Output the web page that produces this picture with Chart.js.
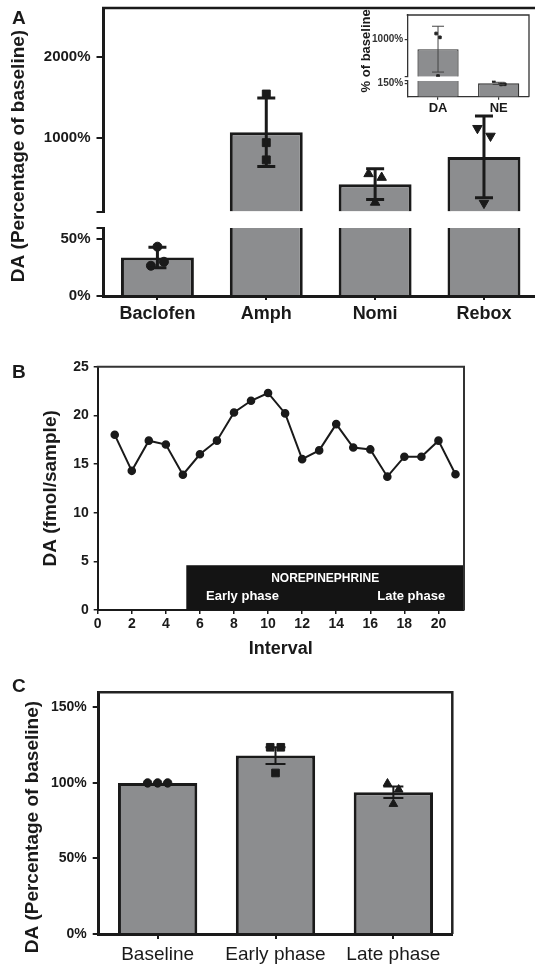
<!DOCTYPE html>
<html>
<head>
<meta charset="utf-8">
<script src="https://cdn.jsdelivr.net/npm/chart.js@4.4.1/dist/chart.umd.min.js"></script>
<style>
  html, body { margin: 0; padding: 0; background: #fff; }
  body { position: relative; width: 535px; height: 965px; overflow: hidden; }
  canvas { position: absolute; }
  .letter { position: absolute; left: 12px; font: bold 19px "Liberation Sans", Arial, sans-serif; line-height: 19px; color: #1a1a1a; }
</style>
</head>
<body>
<!-- panel A runs a little past the right edge, like the cropped original -->
<canvas id="chartA" width="545" height="335" style="left:0;top:0"></canvas>
<canvas id="chartInset" width="195" height="120" style="left:340px;top:0"></canvas>
<canvas id="chartB" width="535" height="325" style="left:0;top:340px"></canvas>
<canvas id="chartC" width="535" height="300" style="left:0;top:665px"></canvas>
<div class="letter" style="top:8px">A</div>
<div class="letter" style="top:362px">B</div>
<div class="letter" style="top:676px">C</div>
<script>
Chart.defaults.font.family = "'Liberation Sans', Arial, Helvetica, sans-serif";
Chart.defaults.color = '#1a1a1a';
Chart.defaults.animation = false;
Chart.defaults.plugins.legend.display = false;
Chart.defaults.plugins.tooltip.enabled = false;

const INK = '#1a1a1a';
const BAR_GRAY = '#8c8d8f';
const TITLE_FONT = 'bold 19px "Liberation Sans", Arial, sans-serif';

// ---- Panel A: drug effects (broken axis) ----
const drugs = ['Baclofen', 'Amph', 'Nomi', 'Rebox'];
const drugMean = [34, 1073, 436, 771];
const drugSD = [9, 420, 188, 503];
const drugPoints = [[43.5, 30.2, 26.7], [1543, 946, 734], [562, 517, 211], [1123, 1028, 203]];
const drugJitter = [[0, 0.06, -0.06], [0, 0, 0], [-0.06, 0.06, 0], [-0.06, 0.06, 0]];
const drugMarker = ['circle', 'rect', 'triangle', 'triangle'];
const drugMarkerTurn = [0, 0, 0, 180];
const aLowMax = 60, aHighMin = 100, aHighMax = 2600;

// ---- Inset: DA vs NE ----
const insetCats = ['DA', 'NE'];
const insetMean = [775, 150];
const insetSD = [520, 12];
const insetPoints = [[1130, 1043, 165], [175, 138, 140]];
const insetJitter = [[-0.03, 0.03, 0], [-0.08, 0.04, 0.1]];
const iLowMax = 180, iHighMin = 150, iHighMax = 1550;

// ---- Panel B: time course ----
const intervals = [1, 2, 3, 4, 5, 6, 7, 8, 9, 10, 11, 12, 13, 14, 15, 16, 17, 18, 19, 20, 21];
const daFmol = [18.0, 14.3, 17.4, 17.0, 13.9, 16.0, 17.4, 20.3, 21.5, 22.3, 20.2, 15.5, 16.4, 19.1, 16.7, 16.5, 13.7, 15.75, 15.75, 17.4, 13.95];
const intervalTicks = [0, 2, 4, 6, 8, 10, 12, 14, 16, 18, 20];
const neStart = 5.2, neTop = 4.6, intervalMax = 21.5;

// ---- Panel C: phases ----
const phases = ['Baseline', 'Early phase', 'Late phase'];
const phaseMean = [100, 118.1, 93.8];
const phaseSEM = [0, 5.6, 3.8];
const phasePoints = [[100, 100, 100], [123.6, 123.6, 106.6], [99.6, 95.6, 86.1]];
const phaseJitter = [[-0.085, 0, 0.085], [-0.045, 0.045, 0], [-0.05, 0.045, 0]];
const phaseMarker = ['circle', 'rect', 'triangle'];

// helpers
const fixWidth = w => s => { s.width = w; s.paddingTop = 0; s.paddingBottom = 0; };
const fixHeight = h => s => { s.height = h; s.paddingLeft = 0; s.paddingRight = 0; };
const onlyTicks = vals => s => { s.ticks = vals.map(v => ({ value: v })); };
const tickMarks = (len, w, color) => ({ drawOnChartArea: false, drawTicks: true, tickLength: len, lineWidth: w, color: color || INK, offset: false });

function errorBars(cfg) {
  return {
    id: 'errorBars',
    afterDatasetsDraw(chart) {
      const { ctx } = chart;
      const x = chart.scales.x;
      ctx.save();
      ctx.strokeStyle = cfg.color;
      ctx.lineWidth = cfg.width;
      cfg.mean.forEach((m, i) => {
        const e = cfg.err[i];
        if (!e) return;
        const y = chart.scales[cfg.axes ? cfg.axes[i] : 'y'];
        const px = x.getPixelForValue(i);
        const hi = y.getPixelForValue(m + e), lo = y.getPixelForValue(m - e);
        ctx.beginPath();
        ctx.moveTo(px, hi); ctx.lineTo(px, lo);
        ctx.moveTo(px - cfg.cap, hi); ctx.lineTo(px + cfg.cap, hi);
        ctx.moveTo(px - cfg.cap, lo); ctx.lineTo(px + cfg.cap, lo);
        ctx.stroke();
      });
      ctx.restore();
    }
  };
}

function frame(cfg) {
  return {
    id: 'frame',
    afterDraw(chart) {
      const { ctx, chartArea: a } = chart;
      ctx.save();
      ctx.strokeStyle = cfg.color;
      ctx.lineWidth = cfg.width;
      ctx.beginPath();
      ctx.moveTo(a.left - 1, a.top);
      ctx.lineTo(a.right, a.top);
      if (cfg.right) ctx.lineTo(a.right, a.bottom);
      ctx.stroke();
      ctx.restore();
    }
  };
}

// y title spanning the whole plot height (broken axes have no single title)
function sideTitle(cfg) {
  return {
    id: 'sideTitle',
    afterDraw(chart) {
      const { ctx, chartArea: a } = chart;
      ctx.save();
      ctx.translate(cfg.x, (a.top + a.bottom) / 2 + (cfg.shift || 0));
      ctx.rotate(-Math.PI / 2);
      ctx.font = cfg.font;
      ctx.fillStyle = cfg.color || INK;
      ctx.textAlign = 'center';
      ctx.textBaseline = 'middle';
      ctx.fillText(cfg.text, 0, 0);
      ctx.restore();
    }
  };
}

// bars split over a low and a high axis segment
function brokenBars(mean, lowMax, highMin, width, color, pct) {
  const common = { type: 'bar', xAxisID: 'x', backgroundColor: BAR_GRAY, borderColor: color, borderSkipped: 'start', grouped: false, barPercentage: pct, categoryPercentage: 1, order: 2 };
  return [
    Object.assign({}, common, {
      yAxisID: 'yLow',
      data: mean.map(v => Math.min(v, lowMax)),
      borderWidth: c => mean[c.dataIndex] > lowMax ? { top: 0, bottom: 0, left: width, right: width } : width
    }),
    Object.assign({}, common, {
      yAxisID: 'yHigh',
      data: mean.map(v => v > highMin ? [highMin, v] : null),
      borderWidth: width
    })
  ];
}

function dots(points, jitter, markers, turns, axisFor, radius, color) {
  return points.map((vals, i) => ({
    type: 'scatter', xAxisID: 'xj', yAxisID: axisFor(i), order: 0,
    data: vals.map((v, k) => ({ x: i + jitter[i][k], y: v })),
    pointStyle: markers[i], pointRotation: turns ? turns[i] : 0,
    pointRadius: radius[i], pointBackgroundColor: color, pointBorderColor: color, pointBorderWidth: 1
  }));
}

// ================= Panel A =================
const aAxis = i => drugMean[i] > aHighMin ? 'yHigh' : 'yLow';
new Chart(document.getElementById('chartA'), {
  type: 'bar',
  data: {
    labels: drugs,
    datasets: dots(drugPoints, drugJitter, drugMarker, drugMarkerTurn, aAxis, [4.5, 5.6, 5.5, 5.5], INK)
      .concat(brokenBars(drugMean, aLowMax, aHighMin, 3, INK, 0.67))
  },
  options: {
    responsive: false,
    devicePixelRatio: 1,
    layout: { padding: { top: 8, right: 0, left: 0, bottom: 0 } },
    scales: {
      x: {
        type: 'category', position: 'bottom', offset: true, afterFit: fixHeight(39),
        ticks: { font: { size: 18, weight: 'bold' }, padding: 3.5, color: INK },
        grid: tickMarks(4, 2), border: { color: INK, width: 3 }
      },
      xj: { type: 'linear', display: false, offset: false, min: -0.5, max: drugs.length - 0.5 },
      yHigh: {
        type: 'linear', position: 'left', stack: 'a', stackWeight: 203.5, weight: 3,
        min: aHighMin, max: aHighMax, afterBuildTicks: onlyTicks([aHighMin, 1000, 2000]), afterFit: fixWidth(103),
        ticks: { autoSkip: false, callback: v => v === aHighMin ? '' : v + '%', font: { size: 15, weight: 'bold' }, padding: 6, color: INK },
        grid: tickMarks(6.5, 2), border: { color: INK, width: 3 }
      },
      yGap: { type: 'linear', display: false, position: 'left', stack: 'a', stackWeight: 16.5, weight: 2 },
      yLow: {
        type: 'linear', position: 'left', stack: 'a', stackWeight: 68, weight: 1,
        min: 0, max: aLowMax, afterBuildTicks: onlyTicks([0, 50, aLowMax]), afterFit: fixWidth(103),
        ticks: { autoSkip: false, callback: v => v === aLowMax ? '' : v + '%', font: { size: 15, weight: 'bold' }, padding: 6, color: INK },
        grid: tickMarks(6.5, 2), border: { color: INK, width: 3 }
      }
    }
  },
  plugins: [
    errorBars({ mean: drugMean, err: drugSD, axes: drugMean.map((v, i) => aAxis(i)), cap: 9, width: 3, color: INK }),
    frame({ color: INK, width: 2.5, right: false }),
    sideTitle({ text: 'DA (Percentage of baseline)', x: 18.5, shift: 4, font: TITLE_FONT })
  ]
});

// ================= Inset =================
const iAxis = i => insetMean[i] > iLowMax ? 'yHigh' : 'yLow';
const INSET_INK = '#333';
new Chart(document.getElementById('chartInset'), {
  type: 'bar',
  data: {
    labels: insetCats,
    datasets: dots(insetPoints, insetJitter, ['rect', 'rect'], null, iAxis, [1.9, 1.9], '#222')
      .concat(brokenBars(insetMean, iLowMax, iHighMin, 1.3, INSET_INK, 0.68))
  },
  options: {
    responsive: false,
    devicePixelRatio: 1,
    layout: { padding: { top: 15, right: 6, left: 0, bottom: 0 } },
    scales: {
      x: {
        type: 'category', position: 'bottom', offset: true, afterFit: fixHeight(23.3),
        ticks: { font: { size: 13, weight: 'bold' }, padding: 0.5, color: INK },
        grid: tickMarks(3, 1.2, INSET_INK), border: { color: INSET_INK, width: 1.3 }
      },
      xj: { type: 'linear', display: false, offset: false, min: -0.5, max: insetCats.length - 0.5 },
      yHigh: {
        type: 'linear', position: 'left', stack: 'i', stackWeight: 61.7, weight: 3,
        min: iHighMin, max: iHighMax, afterBuildTicks: onlyTicks([iHighMin, 1000]), afterFit: fixWidth(67.7),
        ticks: { autoSkip: false, callback: v => v === iHighMin ? '' : v + '%', font: { size: 10, weight: 'bold' }, padding: 1.5, color: INSET_INK },
        grid: tickMarks(3, 1.2, INSET_INK), border: { color: INSET_INK, width: 1.3 }
      },
      yGap: { type: 'linear', display: false, position: 'left', stack: 'i', stackWeight: 4, weight: 2 },
      yLow: {
        type: 'linear', position: 'left', stack: 'i', stackWeight: 16, weight: 1,
        min: 0, max: iLowMax, afterBuildTicks: onlyTicks([150, iLowMax]), afterFit: fixWidth(67.7),
        ticks: { autoSkip: false, callback: v => v === iLowMax ? '' : v + '%', font: { size: 10, weight: 'bold' }, padding: 1.5, color: INSET_INK },
        grid: tickMarks(3, 1.2, INSET_INK), border: { color: INSET_INK, width: 1.3 }
      }
    }
  },
  plugins: [
    errorBars({ mean: insetMean, err: insetSD, axes: insetMean.map((v, i) => v > iLowMax ? 'yHigh' : 'yLow'), cap: 6, width: 1, color: '#444' }),
    frame({ color: INSET_INK, width: 1.3, right: true }),
    sideTitle({ text: '% of baseline', x: 26, shift: -5, font: 'bold 13px "Liberation Sans", Arial, sans-serif' })
  ]
});

// ================= Panel B =================
const phaseBox = {
  id: 'phaseBox',
  beforeDatasetsDraw(chart) {
    const { ctx, chartArea: a, scales: { x, y } } = chart;
    const left = x.getPixelForValue(neStart), top = y.getPixelForValue(neTop);
    ctx.save();
    ctx.fillStyle = '#141414';
    ctx.fillRect(left, top, a.right - left, y.getPixelForValue(0) - top);
    ctx.fillStyle = '#fff';
    ctx.textAlign = 'center';
    ctx.textBaseline = 'middle';
    ctx.font = 'bold 12px "Liberation Sans", Arial, sans-serif';
    ctx.fillText('NOREPINEPHRINE', x.getPixelForValue((neStart + intervalMax) / 2), y.getPixelForValue(3.25));
    ctx.font = 'bold 13px "Liberation Sans", Arial, sans-serif';
    ctx.fillText('Early phase', x.getPixelForValue(8.5), y.getPixelForValue(1.4));
    ctx.fillText('Late phase', x.getPixelForValue(18.4), y.getPixelForValue(1.4));
    ctx.restore();
  }
};

new Chart(document.getElementById('chartB'), {
  type: 'line',
  data: {
    datasets: [{
      data: intervals.map((t, i) => ({ x: t, y: daFmol[i] })),
      borderColor: INK, borderWidth: 2, tension: 0,
      pointRadius: 3.3, pointBackgroundColor: INK, pointBorderColor: INK
    }]
  },
  options: {
    responsive: false,
    devicePixelRatio: 1,
    layout: { padding: { top: 26.7, right: 71, left: 0, bottom: 0 } },
    scales: {
      x: {
        type: 'linear', min: 0, max: intervalMax, afterFit: fixHeight(55),
        afterBuildTicks: onlyTicks(intervalTicks),
        ticks: { autoSkip: false, font: { size: 14, weight: 'bold' }, padding: 2, color: INK },
        grid: tickMarks(4, 1.5), border: { color: INK, width: 2 },
        title: { display: true, text: 'Interval', font: { size: 18, weight: 'bold' }, padding: { bottom: 5 }, color: INK }
      },
      y: {
        type: 'linear', min: 0, max: 25, afterFit: fixWidth(97.7),
        ticks: { stepSize: 5, autoSkip: false, font: { size: 14, weight: 'bold' }, padding: 5, color: INK },
        grid: tickMarks(4, 1.5), border: { color: INK, width: 2 },
        title: { display: true, text: 'DA (fmol/sample)', font: { size: 19, weight: 'bold' }, padding: { top: 39.6 }, color: INK }
      }
    }
  },
  plugins: [phaseBox, frame({ color: '#333', width: 2, right: true })]
});

// ================= Panel C =================
new Chart(document.getElementById('chartC'), {
  type: 'bar',
  data: {
    labels: phases,
    datasets: dots(phasePoints, phaseJitter, phaseMarker, null, () => 'y', [4.2, 5.4, 5], INK)
      .concat([{
        type: 'bar', xAxisID: 'x', yAxisID: 'y', data: phaseMean, backgroundColor: BAR_GRAY, borderColor: INK, borderWidth: 3,
        borderSkipped: 'start', grouped: false, barPercentage: 0.673, categoryPercentage: 1, order: 2
      }])
  },
  options: {
    responsive: false,
    devicePixelRatio: 1,
    layout: { padding: { top: 27.3, right: 82.7, left: 0, bottom: 0 } },
    scales: {
      x: {
        type: 'category', offset: true, afterFit: fixHeight(31),
        ticks: { font: { size: 19 }, padding: 4, color: INK },
        grid: tickMarks(5, 2), border: { color: INK, width: 3 }
      },
      xj: { type: 'linear', display: false, offset: false, min: -0.5, max: phases.length - 0.5 },
      y: {
        type: 'linear', min: 0, max: 160, afterFit: fixWidth(98.7),
        afterBuildTicks: onlyTicks([0, 50, 100, 150]),
        ticks: { autoSkip: false, callback: v => v + '%', font: { size: 14, weight: 'bold' }, padding: 6, color: INK },
        grid: tickMarks(6, 2), border: { color: INK, width: 3 }
      }
    }
  },
  plugins: [
    errorBars({ mean: phaseMean, err: phaseSEM, cap: 10, width: 2, color: INK }),
    frame({ color: '#222', width: 2.5, right: true }),
    sideTitle({ text: 'DA (Percentage of baseline)', x: 32.5, shift: 14, font: TITLE_FONT })
  ]
});
</script>
</body>
</html>
